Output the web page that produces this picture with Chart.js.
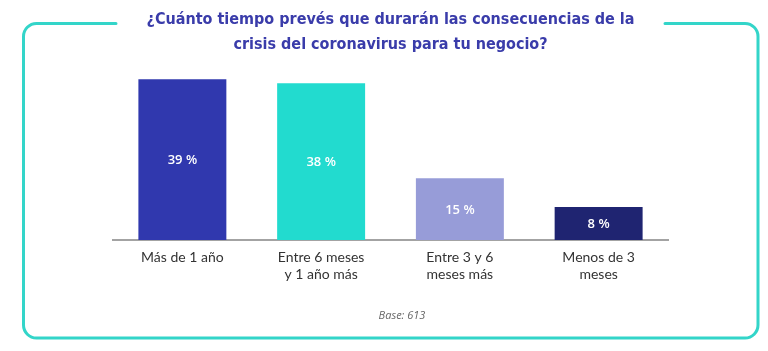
<!DOCTYPE html>
<html>
<head>
<meta charset="utf-8">
<script src="https://cdn.jsdelivr.net/npm/chart.js@4"></script>
<style>
  html, body { margin: 0; padding: 0; background: #fff; }
  #wrap { width: 768px; height: 351px; position: relative; }
</style>
</head>
<body>
<div id="wrap"><canvas id="myChart" width="768" height="351"></canvas></div>
<script>
var categories = [
    ["Más de 1 año"],
    ["Entre 6 meses", "y 1 año más"],
    ["Entre 3 y 6", "meses más"],
    ["Menos de 3", "meses"]
];
var values = [39, 38, 15, 8];
var valueLabels = ["39 %", "38 %", "15 %", "8 %"];
var barColors = ["#3038ae", "#22dbcf", "#979cd8", "#1f2471"];
var titleLines = [
    "¿Cuánto tiempo prevés que durarán las consecuencias de la",
    "crisis del coronavirus para tu negocio?"
];
var baseNote = "Base: 613";

// marco redondeado con hueco para el título + nota de base
var framePlugin = {
    id: "frame",
    beforeDraw: function (chart) {
        var ctx = chart.ctx;
        var l = 23.5, t = 23.5, r = 758, b = 338, rad = 13;
        ctx.save();
        ctx.strokeStyle = "#33d5c9";
        ctx.lineWidth = 3;
        ctx.lineCap = "round";
        ctx.beginPath();
        ctx.moveTo(116, t);
        ctx.lineTo(l + rad, t);
        ctx.arcTo(l, t, l, t + rad, rad);
        ctx.lineTo(l, b - rad);
        ctx.arcTo(l, b, l + rad, b, rad);
        ctx.lineTo(r - rad, b);
        ctx.arcTo(r, b, r, b - rad, rad);
        ctx.lineTo(r, t + rad);
        ctx.arcTo(r, t, r - rad, t, rad);
        ctx.lineTo(665, t);
        ctx.stroke();

        ctx.fillStyle = "#666";
        ctx.font = "italic 11px 'Open Sans'";
        ctx.textAlign = "center";
        ctx.textBaseline = "middle";
        ctx.fillText(baseNote, 402, 316);
        ctx.restore();
    }
};

var valuePlugin = {
    id: "values",
    afterDatasetsDraw: function (chart) {
        var ctx = chart.ctx;
        var meta = chart.getDatasetMeta(0);
        ctx.save();
        ctx.fillStyle = "#fff";
        ctx.font = "600 13px 'Open Sans'";
        ctx.textAlign = "center";
        ctx.textBaseline = "middle";
        meta.data.forEach(function (bar, i) {
            var p = bar.getProps(["x", "y", "base"], true);
            ctx.fillText(valueLabels[i], p.x, (p.y + p.base) / 2 + 1);
        });
        ctx.restore();
    }
};

var ctx = document.getElementById("myChart").getContext("2d");
var chart = new Chart(ctx, {
    type: "bar",
    data: {
        labels: categories,
        datasets: [{
            data: values,
            backgroundColor: barColors,
            categoryPercentage: 1,
            barPercentage: 0.634
        }]
    },
    options: {
        responsive: false,
        animation: false,
        events: [],
        layout: { padding: { left: 113, right: 100, top: 0, bottom: 0 } },
        plugins: {
            legend: { display: false },
            tooltip: { enabled: false },
            title: {
                display: true,
                text: titleLines,
                color: "#3a3caa",
                font: { family: "'DejaVu Sans Condensed', 'DejaVu Sans'", size: 16, weight: "bold", lineHeight: 25 / 16 },
                padding: { top: 7, bottom: 18 }
            }
        },
        scales: {
            y: {
                display: false,
                min: 0,
                max: 40
            },
            x: {
                grid: { display: false, drawTicks: false },
                border: { display: true, color: "#a3a3a3", width: 2 },
                ticks: {
                    color: "#333",
                    padding: 9,
                    maxRotation: 0,
                    font: { family: "Lato", size: 14, lineHeight: 17 / 14 }
                },
                afterFit: function (s) { s.height = 111; }
            }
        }
    },
    plugins: [framePlugin, valuePlugin]
});
</script>
</body>
</html>
